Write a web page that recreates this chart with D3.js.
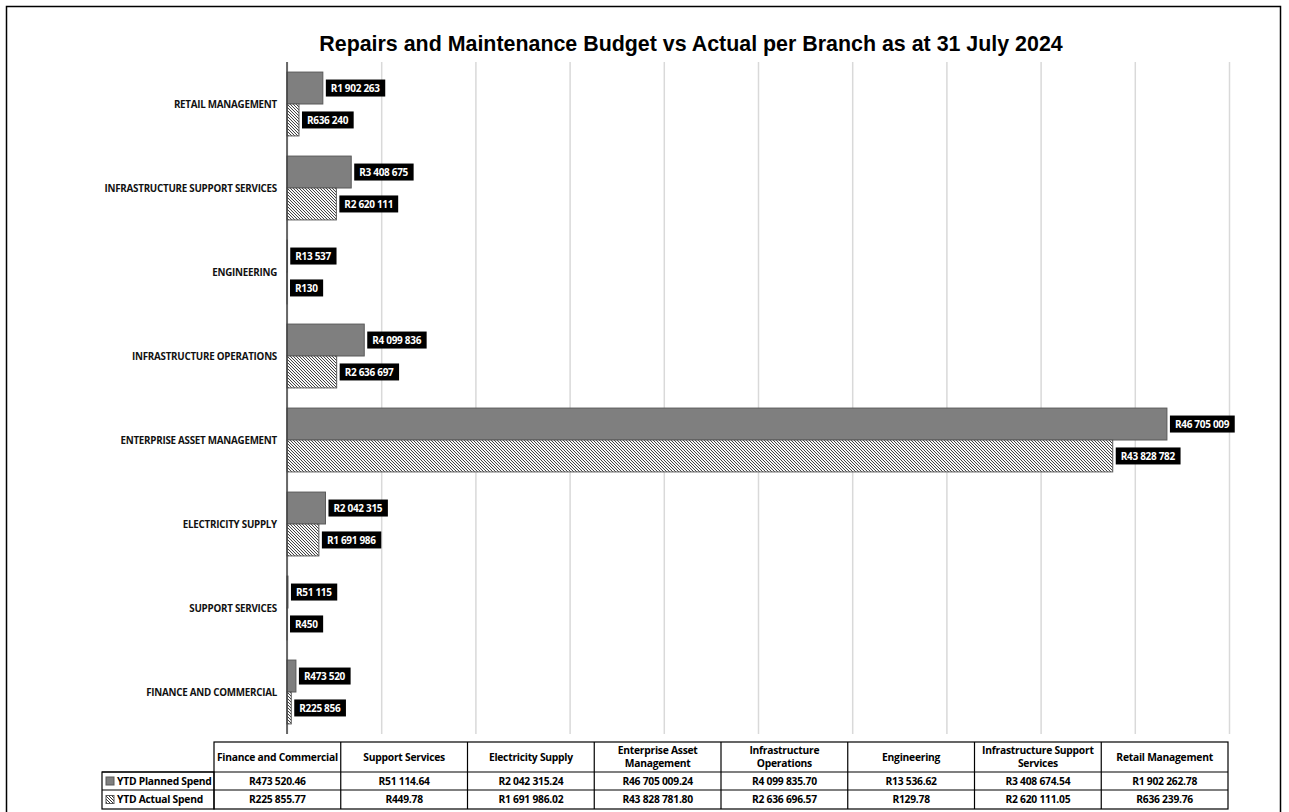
<!DOCTYPE html>
<html>
<head>
<meta charset="utf-8">
<script src="https://cdn.jsdelivr.net/npm/d3@7"></script>
<style>
  body { margin: 0; background: #fff; }
  text { font-family: "Open Sans", "Noto Sans", sans-serif; }
</style>
</head>
<body>
<div id="chart"></div>
<script>
// branches in table order (bottom to top on the chart)
const branches = ['Finance and Commercial', 'Support Services', 'Electricity Supply', 'Enterprise Asset Management',
  'Infrastructure Operations', 'Engineering', 'Infrastructure Support Services', 'Retail Management'];
const headerLines = [['Finance and Commercial'], ['Support Services'], ['Electricity Supply'], ['Enterprise Asset', 'Management'],
  ['Infrastructure', 'Operations'], ['Engineering'], ['Infrastructure Support', 'Services'], ['Retail Management']];
const plannedSpend = [473520.46, 51114.64, 2042315.24, 46705009.24, 4099835.70, 13536.62, 3408674.54, 1902262.78];
const actualSpend = [225855.77, 449.78, 1691986.02, 43828781.80, 2636696.57, 129.78, 2620111.05, 636239.76];
const seriesNames = ['YTD Planned Spend', 'YTD Actual Spend'];
const xTicks = d3.range(0, 50000001, 5000000);

const title = 'Repairs and Maintenance Budget vs Actual per Branch as at 31 July 2024';

const W = 1289, H = 812;
const plot = { left: 287, right: 1229, top: 62, bottom: 734 };

const locale = d3.formatLocale({ decimal: '.', thousands: ' ', grouping: [3], currency: ['R', ''] });
const fmtRound = v => 'R' + locale.format(',.0f')(v);
const fmtFull = v => 'R' + locale.format(',.2f')(v);

const svg = d3.select('#chart').append('svg')
  .attr('width', W)
  .attr('height', H)

const defs = svg.append('defs')
const hatch = defs.append('pattern')
  .attr('id', 'hatch')
  .attr('patternUnits', 'userSpaceOnUse')
  .attr('width', 3)
  .attr('height', 3)
hatch.append('rect').attr('width', 3).attr('height', 3).attr('fill', '#fff')
hatch.append('path')
  .attr('d', 'M-1,-1 L4,4 M-1,2 L1,4 M2,-1 L4,1')
  .attr('stroke', '#333')
  .attr('stroke-width', 1)

// outer frame
svg.append('rect')
  .attr('x', 6.5).attr('y', 6.5)
  .attr('width', 1274).attr('height', 830)
  .attr('fill', 'none')
  .attr('stroke', '#000')
  .attr('stroke-width', 1.5)

svg.append('text')
  .attr('x', 691)
  .attr('y', 51)
  .attr('text-anchor', 'middle')
  .style('font-family', '"Liberation Sans", Arial, sans-serif')
  .style('font-weight', 'bold')
  .style('font-size', '21.4px')
  .text(title)

//// scales
const x = d3.scaleLinear()
  .domain([0, 50000000])
  .range([plot.left, plot.right])

const y = d3.scaleBand()
  .domain(branches.slice().reverse())
  .range([plot.top, plot.bottom])
  .paddingInner(0.24)
  .paddingOuter(0.12)

const ySeries = d3.scaleBand()
  .domain(seriesNames)
  .range([0, y.bandwidth()])

// gridlines
const grid = svg.append('g')
  .attr('transform', `translate(0,${plot.bottom})`)
  .call(d3.axisBottom(x).tickValues(xTicks).tickSize(-(plot.bottom - plot.top)).tickFormat(''))
grid.select('.domain').remove()
grid.selectAll('.tick line').attr('stroke', '#d9d9d9').attr('stroke-width', 1.5)

//// bars
const rows = branches.map((b, i) => ({ branch: b, values: [plannedSpend[i], actualSpend[i]] }))

const groups = svg.selectAll('g.branch')
  .data(rows)
  .join('g')
  .attr('class', 'branch')
  .attr('transform', d => `translate(0,${y(d.branch)})`)

groups.selectAll('rect')
  .data(d => d.values.map((v, i) => ({ name: seriesNames[i], value: v })))
  .join('rect')
  .attr('x', x(0))
  .attr('y', d => ySeries(d.name))
  .attr('width', d => x(d.value) - x(0))
  .attr('height', ySeries.bandwidth())
  .attr('fill', d => d.name === seriesNames[0] ? '#7f7f7f' : 'url(#hatch)')
  .attr('stroke', '#595959')
  .attr('stroke-width', 1)

// value labels
groups.each(function(d) {
  const g = d3.select(this)
  d.values.forEach((v, i) => {
    const cy = ySeries(seriesNames[i]) + ySeries.bandwidth() / 2
    const lbl = g.append('g')
    const t = lbl.append('text')
      .attr('x', x(v) + 8)
      .attr('y', cy + 3.6)
      .attr('fill', '#fff')
      .style('font-size', '10px')
      .style('font-weight', 'bold')
      .style('letter-spacing', '-0.3px')
      .text(fmtRound(v))
    const bb = t.node().getBBox()
    lbl.insert('rect', 'text')
      .attr('x', x(v) + 3)
      .attr('y', cy - 8.5)
      .attr('width', bb.width + 10)
      .attr('height', 17)
      .attr('fill', '#000')
  })
})

// category labels
svg.append('g')
  .selectAll('text')
  .data(branches)
  .join('text')
  .attr('x', 277)
  .attr('y', d => y(d) + y.bandwidth() / 2 + 3.5)
  .attr('text-anchor', 'end')
  .style('font-size', '9.8px')
  .style('font-weight', 'bold')
  .style('letter-spacing', '-0.25px')
  .attr('fill', '#111')
  .text(d => d.toUpperCase())

// axis line
svg.append('line')
  .attr('x1', x(0)).attr('x2', x(0))
  .attr('y1', plot.top).attr('y2', plot.bottom)
  .attr('stroke', '#404040')
  .attr('stroke-width', 1.5)

//// data table
const table = { left: 102, first: 214, right: 1228, top: 742, head: 772, row1: 790, bottom: 809 }
const col = d3.scaleBand().domain(branches).range([table.first, table.right])
const tg = svg.append('g').attr('class', 'table')

const lineStyle = sel => sel.attr('stroke', '#000').attr('stroke-width', 1.2)

// outlines
lineStyle(tg.append('rect')
  .attr('x', table.first).attr('y', table.top)
  .attr('width', table.right - table.first).attr('height', table.bottom - table.top)
  .attr('fill', 'none'))
lineStyle(tg.append('rect')
  .attr('x', table.left).attr('y', table.head)
  .attr('width', table.first - table.left).attr('height', table.bottom - table.head)
  .attr('fill', 'none'))
;[table.head, table.row1].forEach(yy => {
  lineStyle(tg.append('line').attr('x1', table.left).attr('x2', table.right).attr('y1', yy).attr('y2', yy))
})
branches.slice(1).forEach(b => {
  lineStyle(tg.append('line').attr('x1', col(b)).attr('x2', col(b)).attr('y1', table.top).attr('y2', table.bottom))
})

const cellFont = sel => sel
  .style('font-size', '10.3px')
  .style('font-weight', 'bold')
  .style('letter-spacing', '-0.25px')

// headers
branches.forEach((b, i) => {
  const lines = headerLines[i]
  const cy = (table.top + table.head) / 2
  lines.forEach((ln, j) => {
    tg.append('text')
      .attr('x', col(b) + col.bandwidth() / 2)
      .attr('y', cy + 3.7 + (j - (lines.length - 1) / 2) * 12.5)
      .attr('text-anchor', 'middle')
      .call(cellFont)
      .text(ln)
  })
})

// values rows
const rowY = [(table.head + table.row1) / 2, (table.row1 + table.bottom) / 2]
;[plannedSpend, actualSpend].forEach((vals, r) => {
  tg.append('g').selectAll('text')
    .data(vals)
    .join('text')
    .attr('x', (d, i) => col(branches[i]) + col.bandwidth() / 2)
    .attr('y', rowY[r] + 3.7)
    .attr('text-anchor', 'middle')
    .call(cellFont)
    .text(d => fmtFull(d))

  // legend key
  tg.append('rect')
    .attr('x', 106).attr('y', rowY[r] - 4)
    .attr('width', 8).attr('height', 8)
    .attr('fill', r === 0 ? '#7f7f7f' : 'url(#hatch)')
    .attr('stroke', '#595959')
  tg.append('text')
    .attr('x', 117)
    .attr('y', rowY[r] + 3.7)
    .call(cellFont)
    .text(seriesNames[r])
})
</script>
</body>
</html>
